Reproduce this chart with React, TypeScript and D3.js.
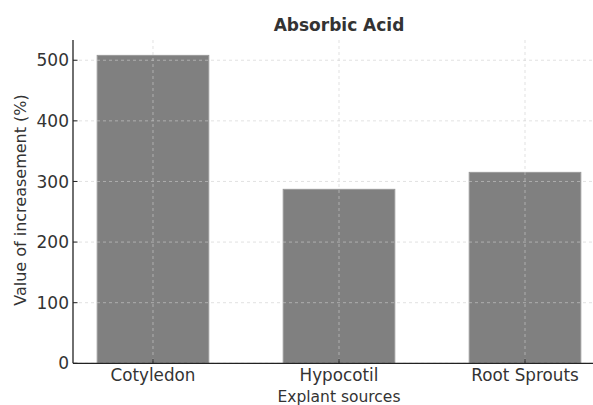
import * as React from "react"
import * as d3 from "d3"

const categories = ["Cotyledon", "Hypocotil", "Root Sprouts"]
const values = [508, 287, 315]
const yTicks = [0, 100, 200, 300, 400, 500]

const title = "Absorbic Acid"
const xLabel = "Explant sources"
const yLabel = "Value of increasement (%)"

export default function App() {
    const [w, h] = [593, 405]
    const m = { top: 40, bottom: 41.7, left: 73, right: -12 }
    const [plotL, plotR, plotT, plotB] = [m.left, w - m.right, m.top, h - m.bottom]
    const barW = 0.6

    const xScale = d3.scaleLinear()
        .domain([-barW / 2 - 0.13, categories.length - 1 + barW / 2 + 0.13])
        .range([plotL, plotR])

    const yScale = d3.scaleLinear()
        .domain([0, Math.max(...values) * 1.05])
        .range([plotB, plotT])

    const font = "DejaVu Sans, sans-serif"
    const grid = "#cfcfcf"

    const bars = values.map((v, i) => (
        <rect
            key={i}
            x={xScale(i - barW / 2)}
            y={yScale(v)}
            width={xScale(i + barW / 2) - xScale(i - barW / 2)}
            height={yScale(0) - yScale(v)}
            fill="#808080"
            stroke="#9a9a9a"
            strokeWidth={1}
        />
    ))

    const hGrid = yTicks.map((t, i) => (
        <line key={i} x1={plotL} x2={plotR} y1={yScale(t)} y2={yScale(t)}
            stroke={grid} strokeOpacity={0.75} strokeDasharray="3,3" strokeWidth={0.8} />
    ))
    const vGrid = categories.map((c, i) => (
        <line key={c} x1={xScale(i)} x2={xScale(i)} y1={plotT} y2={plotB}
            stroke={grid} strokeOpacity={0.75} strokeDasharray="3,3" strokeWidth={0.8} />
    ))

    const yTickEls = yTicks.map((t, i) => (
        <g key={i}>
            <line x1={plotL} x2={plotL + 4.5} y1={yScale(t)} y2={yScale(t)} stroke="#222" strokeWidth={1} />
            <text x={plotL - 4} y={yScale(t)} dy="0.36em" fontSize={17} textAnchor="end" fill="#333" fontFamily={font}>{t}</text>
        </g>
    ))

    const xTickEls = categories.map((c, i) => (
        <g key={c}>
            <line x1={xScale(i)} x2={xScale(i)} y1={plotB} y2={plotB - 4.5} stroke="#222" strokeWidth={1} />
            <text x={xScale(i)} y={plotB + 17.5} fontSize={16.8} textAnchor="middle" fill="#333" fontFamily={font}>{c}</text>
        </g>
    ))

    return (
        <svg width={w} height={h} style={{ position: "absolute", left: 0, top: 0 }}>
            <rect width={w} height={h} fill="#fff" />
            {bars}
            {hGrid}
            {vGrid}
            <line x1={plotL} x2={plotL} y1={plotT} y2={plotB} stroke="#222" strokeWidth={1.3} />
            <line x1={plotL} x2={plotR} y1={plotB} y2={plotB} stroke="#222" strokeWidth={1.3} />
            {yTickEls}
            {xTickEls}
            <text x={(plotL + plotR) / 2} y={31} fontSize={17} fontWeight="bold" textAnchor="middle" fill="#333" fontFamily={font}>{title}</text>
            <text x={(plotL + plotR) / 2} y={401.5} fontSize={15.5} textAnchor="middle" fill="#333" fontFamily={font}>{xLabel}</text>
            <text transform={`translate(25.5,200) rotate(-90)`} fontSize={16} textAnchor="middle" fill="#333" fontFamily={font}>{yLabel}</text>
        </svg>
    )
}
